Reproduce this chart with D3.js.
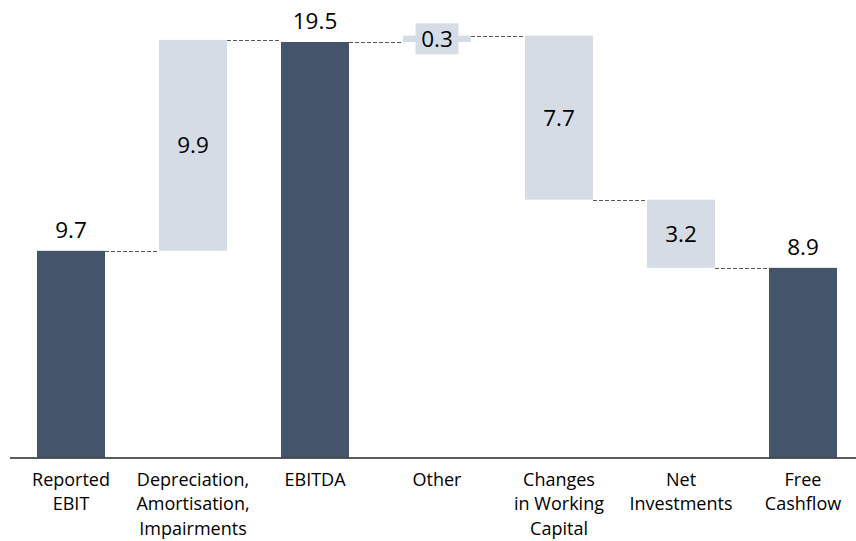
<!DOCTYPE html>
<html>
<head>
<meta charset="utf-8">
<script src="https://cdn.jsdelivr.net/npm/d3@7"></script>
<style>
  body { margin: 0; background: #fff; }
  svg { display: block; font-family: "Open Sans", Lato, sans-serif; }
</style>
</head>
<body>
<svg></svg>
<script>
// waterfall data
var categories = [
    ["Reported", "EBIT"],
    ["Depreciation,", "Amortisation,", "Impairments"],
    ["EBITDA"],
    ["Other"],
    ["Changes", "in Working", "Capital"],
    ["Net", "Investments"],
    ["Free", "Cashflow"]
];
var values = [9.7, 9.9, 19.5, 0.3, -7.7, -3.2, 8.9];
var kinds = ["total", "delta", "total", "delta", "delta", "delta", "total"];

var width = 856,
    height = 541,
    darkColor = "#44546a",
    lightColor = "#d6dce5",
    fmt = d3.format(".1f");

var svg = d3.select("svg")
    .attr("width", width)
    .attr("height", height);

// running totals -> start / end of each bar
var running = 0;
var rows = values.map(function(v, i) {
    var start, end;
    if (kinds[i] == "total") {
        start = 0;
        end = v;
        running = v;
    } else {
        start = running;
        end = running + v;
        running = end;
    }
    return {key: i, lines: categories[i], value: v, kind: kinds[i], start: start, end: end};
});

var x = d3.scaleBand()
    .domain(rows.map(function(d) { return d.key; }))
    .range([37, 837])
    .paddingInner(0.4426)
    .paddingOuter(0);

var y = d3.scaleLinear()
    .domain([0, 19.5])
    .range([457.5, 42]);

// connectors
var links = rows.slice(0, -1).map(function(d, i) {
    return {from: d, to: rows[i + 1]};
});
svg.append("g")
    .selectAll("line")
    .data(links)
    .enter().append("line")
    .attr("x1", function(d) { return x(d.from.key) + x.bandwidth(); })
    .attr("x2", function(d) { return x(d.to.key); })
    .attr("y1", function(d) { return Math.round(y(d.from.end)) + 0.5; })
    .attr("y2", function(d) { return Math.round(y(d.from.end)) + 0.5; })
    .attr("stroke", "#595959")
    .attr("stroke-width", 1)
    .attr("stroke-dasharray", "4,2");

// bars
svg.append("g")
    .selectAll("rect")
    .data(rows)
    .enter().append("rect")
    .attr("x", function(d) { return x(d.key); })
    .attr("width", x.bandwidth())
    .attr("y", function(d) { return y(Math.max(d.start, d.end)); })
    .attr("height", function(d) { return Math.abs(y(d.start) - y(d.end)); })
    .attr("fill", function(d) { return d.kind == "total" ? darkColor : lightColor; });

// value labels
var labels = svg.append("g")
    .selectAll("g")
    .data(rows)
    .enter().append("g")
    .attr("transform", function(d) {
        var cx = x(d.key) + x.bandwidth() / 2;
        var cy = d.kind == "total" ? y(d.end) - 13 : (y(d.start) + y(d.end)) / 2 + 8;
        return "translate(" + cx + "," + cy + ")";
    });

// small bars get a box behind the label
labels.filter(function(d) { return d.kind == "delta" && Math.abs(y(d.start) - y(d.end)) < 30; })
    .append("rect")
    .attr("x", -21.5)
    .attr("y", -23.5)
    .attr("width", 43)
    .attr("height", 31)
    .attr("fill", lightColor);

labels.append("text")
    .attr("text-anchor", "middle")
    .attr("font-size", 22.5)
    .attr("fill", "#000")
    .text(function(d) { return fmt(Math.abs(d.value)); });

// axis line
svg.append("line")
    .attr("x1", 10)
    .attr("x2", width)
    .attr("y1", 458)
    .attr("y2", 458)
    .attr("stroke", "#262626")
    .attr("stroke-width", 1.5);

// category labels
svg.append("g")
    .selectAll("text")
    .data(rows)
    .enter().append("text")
    .attr("text-anchor", "middle")
    .attr("font-size", 18)
    .attr("fill", "#000")
    .attr("transform", function(d) {
        return "translate(" + (x(d.key) + x.bandwidth() / 2) + ",485.5)";
    })
    .selectAll("tspan")
    .data(function(d) { return d.lines; })
    .enter().append("tspan")
    .attr("x", 0)
    .attr("y", function(d, i) { return i * 24.8; })
    .text(function(d) { return d; });
</script>
</body>
</html>
